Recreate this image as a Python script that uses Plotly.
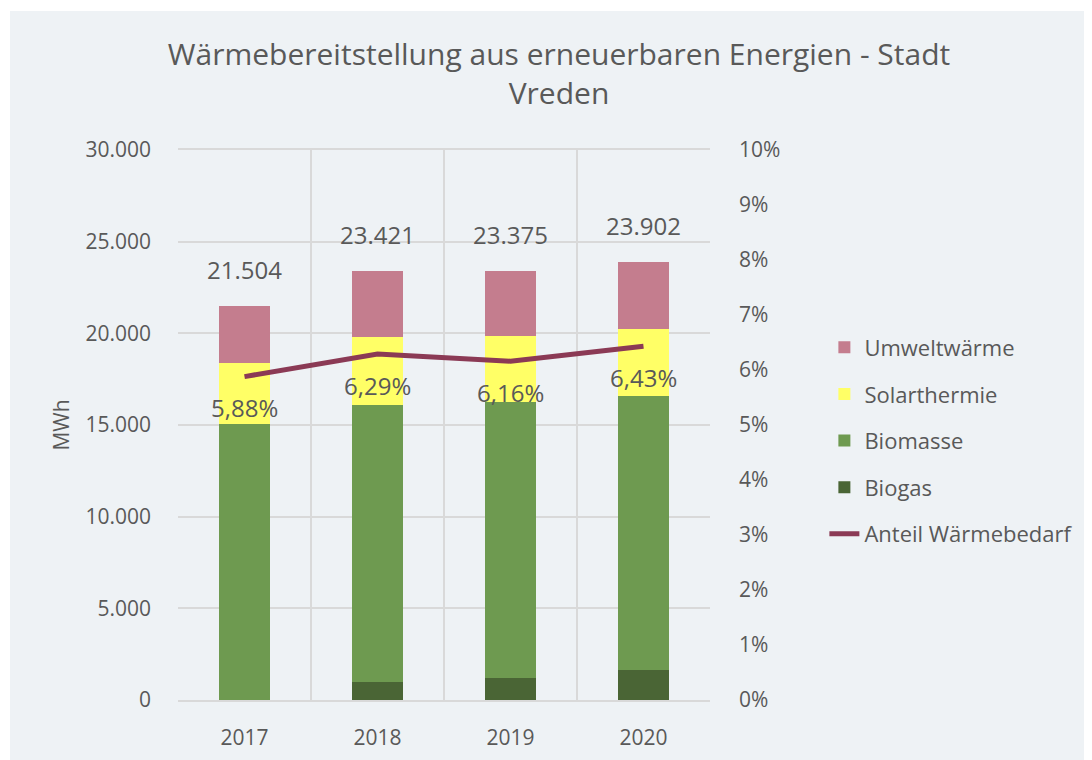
import plotly.graph_objects as go

years = ["2017", "2018", "2019", "2020"]
biogas = [0, 982, 1200, 1636]
biomasse = [15040, 15093, 15071, 14946]
solarthermie = [3342, 3709, 3584, 3672]
umweltwaerme = [3122, 3637, 3520, 3648]
totals = [21504, 23421, 23375, 23902]
anteil = [0.0588, 0.0629, 0.0616, 0.0643]

FONT = "Open Sans"
TXT = "#595959"

fig = go.Figure()
series = [
    ("Biogas", biogas, "#4A6535", 4),
    ("Biomasse", biomasse, "#6E9A50", 3),
    ("Solarthermie", solarthermie, "#FFFF66", 2),
    ("Umweltwärme", umweltwaerme, "#C47D8E", 1),
]
for name, vals, col, rank in series:
    fig.add_trace(go.Bar(
        x=years, y=vals, name=name, marker=dict(color=col, line=dict(width=0)),
        legendrank=rank, legendgroup=name, hoverinfo="skip",
    ))

fig.add_trace(go.Scatter(
    x=years, y=anteil, name="Anteil Wärmebedarf", mode="lines",
    line=dict(color="#8B3A55", width=5), yaxis="y2",
    legendrank=5, legendgroup="anteil",
))

annotations = []
# category axis: annotations are placed by category index
for i, t in enumerate(totals):
    annotations.append(dict(
        x=i, y=t, xref="x", yref="y", text=f"{t:,}".replace(",", "."),
        showarrow=False, yanchor="bottom", yshift=18,
        font=dict(family=FONT, size=24, color=TXT),
    ))
for i, p in enumerate(anteil):
    annotations.append(dict(
        x=i, y=p, xref="x", yref="y2", text=f"{p*100:.2f}%".replace(".", ","),
        showarrow=False, yanchor="middle", yshift=-31,
        font=dict(family=FONT, size=24, color=TXT),
    ))

BG = "#EEF2F5"
GRID = "#D9D9D9"
ML, MR, MT, MB = 170, 390, 142, 68
PW = 1092 - ML - MR
PH = 760 - MT - MB
fig.update_layout(
    width=1092, height=760,
    margin=dict(l=ML, r=MR, t=MT, b=MB, autoexpand=False),
    paper_bgcolor="white",
    plot_bgcolor=BG,
    separators=",.",
    barmode="stack",
    bargap=0.61,
    font=dict(family=FONT, color=TXT, size=19),
    title=dict(
        text="Wärmebereitstellung aus erneuerbaren Energien - Stadt<br>Vreden",
        x=0.5046, xanchor="center", y=0.925, yanchor="middle",
        font=dict(family=FONT, size=30, color=TXT),
    ),
    xaxis=dict(
        type="category", categoryorder="array", categoryarray=years,
        range=[-0.5, len(years) - 0.5], autorange=False,
        tickson="boundaries", showgrid=True, gridcolor=GRID, gridwidth=2,
        showline=True, linecolor=GRID, linewidth=2, mirror=True, ticks="",
        ticklabelstandoff=18, tickfont=dict(size=21), tickangle=0,
    ),
    yaxis=dict(
        range=[0, 30000], dtick=5000, tickformat=",.0f", showgrid=True,
        gridcolor=GRID, gridwidth=2, zeroline=False, showline=False,
        title=dict(text="MWh", font=dict(size=21), standoff=10),
        ticklabelstandoff=26, tickfont=dict(size=21),
    ),
    yaxis2=dict(
        range=[0, 0.1], dtick=0.01, tickformat=".0%", overlaying="y", side="right",
        showgrid=False, zeroline=False, showline=False,
        ticklabelstandoff=28, tickfont=dict(size=21),
    ),
    legend=dict(
        x=1.215, y=0.679, xanchor="left", yanchor="top",
        traceorder="grouped", tracegroupgap=15,
        font=dict(family=FONT, size=22, color=TXT),
        bgcolor="rgba(0,0,0,0)",
    ),
    annotations=annotations,
    shapes=[dict(
        type="rect", xref="paper", yref="paper", layer="below",
        x0=(2 - ML) / PW, x1=(1100 - ML) / PW,
        y0=-(MB + 10) / PH, y1=1 + (MT - 3) / PH,
        fillcolor=BG, line=dict(width=0),
    )],
)

fig.write_html("out.html")
